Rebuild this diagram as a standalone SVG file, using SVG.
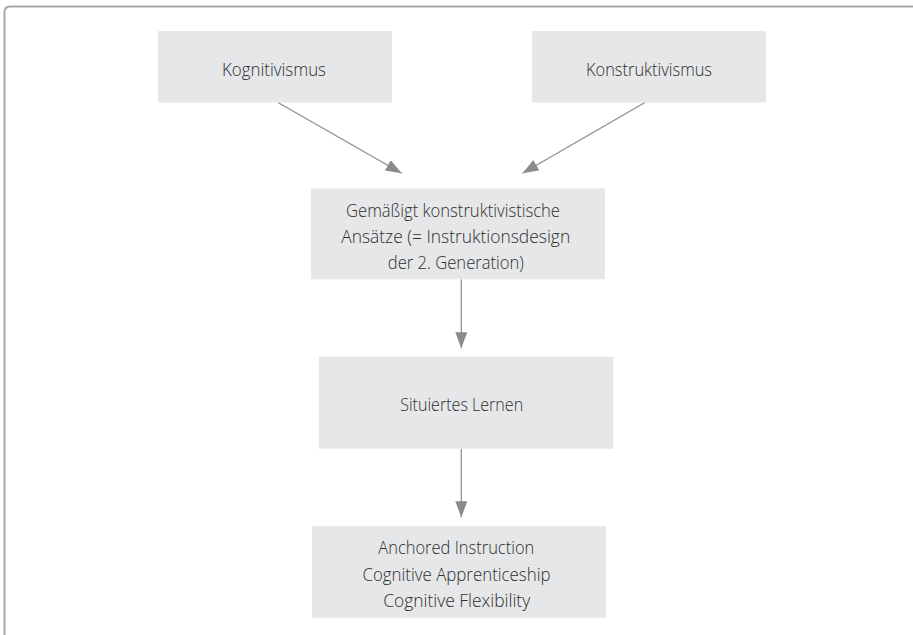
<svg xmlns="http://www.w3.org/2000/svg" width="913" height="635" viewBox="0 0 913 635">
<defs>
<style>
.box{fill:#e6e7e8;}
.lbl{font-family:"Open Sans","Liberation Sans",sans-serif;font-size:19px;font-weight:300;fill:#2e2e2e;text-anchor:middle;}
.edge{stroke:#8c8c8c;stroke-width:1.2;fill:none;}
.frame{stroke:#a8a8a8;stroke-width:2;fill:none;}
</style>
<marker id="ah" markerUnits="userSpaceOnUse" markerWidth="16" markerHeight="12" refX="16" refY="6" orient="auto" viewBox="0 0 16 12">
<path d="M0,0 L16,6 L0,12 z" fill="#8a8b8d"/>
</marker>
</defs>
<rect width="913" height="635" fill="#ffffff"/>
<path class="frame" d="M4.5,635 L4.5,12 Q4.5,6.5 10,6.5 L913,6.5"/>
<g id="connectors">
<line class="edge" x1="278" y1="102.5" x2="401.7" y2="173.3" marker-end="url(#ah)"/>
<line class="edge" x1="645" y1="102.5" x2="522.5" y2="173.3" marker-end="url(#ah)"/>
<line class="edge" x1="461.3" y1="279.3" x2="461.3" y2="348.3" marker-end="url(#ah)"/>
<line class="edge" x1="461.3" y1="448.7" x2="461.3" y2="517.3" marker-end="url(#ah)"/>
</g>
<g id="kognitivismus">
<rect class="box" x="158" y="31" width="234" height="71.5"/>
<text class="lbl" x="274" y="76" textLength="104" lengthAdjust="spacingAndGlyphs">Kognitivismus</text>
</g>
<g id="konstruktivismus">
<rect class="box" x="532" y="31" width="234" height="71.5"/>
<text class="lbl" x="649" y="76" textLength="126" lengthAdjust="spacingAndGlyphs">Konstruktivismus</text>
</g>
<g id="gemaessigt">
<rect class="box" x="311" y="188.3" width="294" height="91"/>
<text class="lbl" x="453" y="216.7" textLength="214" lengthAdjust="spacingAndGlyphs">Gemäßigt konstruktivistische</text>
<text class="lbl" x="455.7" y="243.3" textLength="229" lengthAdjust="spacingAndGlyphs">Ansätze (= Instruktionsdesign</text>
<text class="lbl" x="455.8" y="269.3" textLength="136" lengthAdjust="spacingAndGlyphs">der 2. Generation)</text>
</g>
<g id="situiertes">
<rect class="box" x="319" y="356.7" width="294.3" height="92"/>
<text class="lbl" x="461.7" y="410.7" textLength="123" lengthAdjust="spacingAndGlyphs">Situiertes Lernen</text>
</g>
<g id="anwendungen">
<rect class="box" x="312" y="526" width="294" height="91.7"/>
<text class="lbl" x="456.3" y="554" textLength="156" lengthAdjust="spacingAndGlyphs">Anchored Instruction</text>
<text class="lbl" x="456.5" y="581" textLength="188" lengthAdjust="spacingAndGlyphs">Cognitive Apprenticeship</text>
<text class="lbl" x="456.7" y="606.7" textLength="147" lengthAdjust="spacingAndGlyphs">Cognitive Flexibility</text>
</g>
</svg>
